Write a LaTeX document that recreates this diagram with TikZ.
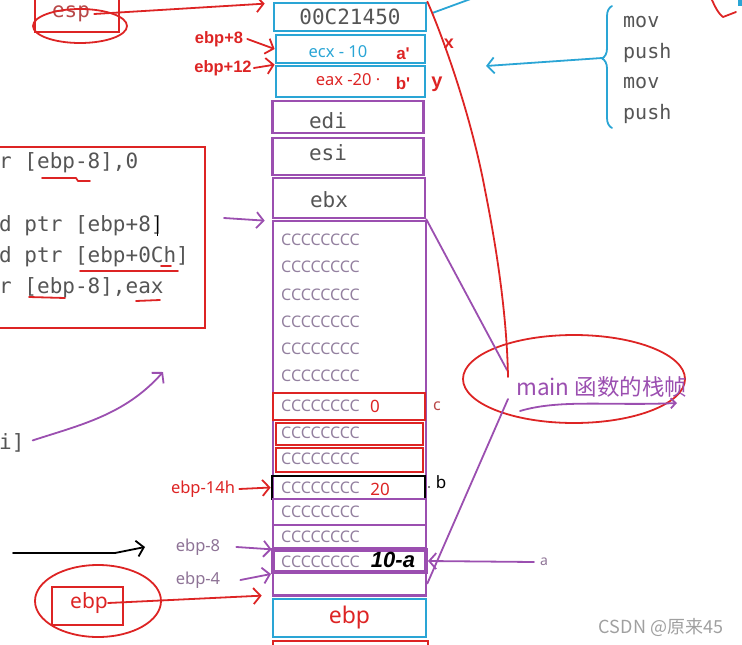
\documentclass[tikz,border=0pt]{standalone}
\usepackage{fontspec}
\setmainfont{Noto Sans}
\newfontfamily\monofont{DejaVu Sans Mono}
\newfontfamily\cjkfont{Noto Sans CJK SC}
\newfontfamily\heavyfont{Liberation Sans}
\usetikzlibrary{arrows.meta,decorations.pathreplacing,shapes.geometric}
\definecolor{SKCyan}{HTML}{2AA5D5}
\definecolor{SKPurple}{HTML}{9B4FB0}
\definecolor{SKRed}{HTML}{DD2424}
\definecolor{SKBrick}{HTML}{B84848}
\definecolor{SKText}{HTML}{555555}
\definecolor{SKCell}{HTML}{93809F}
\definecolor{SKMauve}{HTML}{8E7396}
\definecolor{SKMark}{HTML}{A0A0A0}
\newcommand{\pxsize}[1]{\fontsize{#1}{#1}\selectfont}

\begin{document}
\begin{tikzpicture}[x=1pt,y=-1pt,
  cellbox/.style={draw,line width=2.7pt,inner sep=0pt,minimum width=152pt},
  mono/.style={inner sep=0pt,text=SKText,font=\monofont\pxsize{21}},
  codeln/.style={anchor=base west,inner sep=0pt,text=SKText,font=\monofont\pxsize{21}},
  ctext/.style={anchor=west,inner sep=0pt,text=SKCell,font=\pxsize{16}},
  tag/.style={inner sep=0pt,font=\pxsize{16.5}},
  pen/.style={line width=1.8pt,line cap=round,line join=round},
  barb/.style={-{Straight Barb[length=7pt,width=16pt]}}]
\path[use as bounding box] (0,0) rectangle (742,645);
\clip (0,0) rectangle (742,645);

% stack, top part
\node[cellbox,draw=SKCyan,minimum height=28pt,mono] (tret) at (350,17) {00C21450};
\node[cellbox,draw=SKCyan,minimum width=149pt,minimum height=28pt] (carg1) at (350.5,49) {};
\node[cellbox,draw=SKCyan,minimum width=149pt,minimum height=31pt] (carg2) at (350.5,81.5) {};
\node[tag,text=SKCyan] (ecxv) at (338,52) {ecx - 10};
\node[tag,text=SKRed] (eaxv) at (348,80) {eax -20 ·};
\node[tag,text=SKRed,font=\heavyfont\bfseries\pxsize{17}] (ap) at (403,54) {a'};
\node[tag,text=SKRed,font=\heavyfont\bfseries\pxsize{17}] (bp) at (403,83) {b'};
\node[cellbox,draw=SKPurple,minimum width=151pt,minimum height=32pt] (edi) at (348,117) {};
\node[cellbox,draw=SKPurple,minimum width=151pt,minimum height=37pt] (esi) at (348,156.5) {};
\node[cellbox,draw=SKPurple,minimum height=40pt] (ebx) at (349,198) {};
\node[mono] (ediv) at (328,121) {edi};
\node[mono] (esiv) at (328,153) {esi};
\node[mono] (ebxv) at (329,200) {ebx};

% stack, locals of the frame
\node[cellbox,draw=SKPurple,minimum width=153pt,minimum height=375pt] (cframe) at (349.5,408.5) {};
\node[cellbox,draw=SKRed,minimum height=27pt] (cvar) at (349,406.5) {};
\node[cellbox,draw=SKRed,minimum width=147pt,minimum height=22pt] (cfill1) at (349.5,434) {};
\node[cellbox,draw=SKRed,minimum width=147pt,minimum height=24pt] (cfill2) at (349.5,460) {};
\node[cellbox,draw=black,minimum width=153pt,minimum height=23pt] (bvar) at (348.5,487.5) {};
\node[cellbox,draw=SKPurple,minimum width=153pt,minimum height=26pt] (row1) at (349.5,512) {};
\node[cellbox,draw=SKPurple,minimum width=153pt,minimum height=23pt] (row2) at (349.5,536.5) {};
\node[cellbox,draw=SKPurple,line width=4pt,minimum width=153pt,minimum height=22pt] (avar) at (349.5,561) {};
\node[cellbox,draw=SKPurple,minimum width=153pt,minimum height=23pt] (row4) at (349.5,583.5) {};
\foreach \y in {240,267,295,322,349,376,406,433,459,488,512,537,562}
  \node[ctext] (cc\y) at (281,\y) {CCCCCCCC};
\node[tag,text=SKRed,font=\pxsize{17}] (cval) at (375,406) {0};
\node[tag,text=SKRed,font=\pxsize{17}] (bval) at (380,489) {20};
\node[inner sep=0pt,font=\heavyfont\bfseries\itshape\pxsize{22}] (aval) at (393,560) {10-a};
\node[cellbox,draw=SKCyan,minimum width=153pt,minimum height=38pt,text=SKRed,font=\pxsize{23}] (oldebp) at (349.5,618) {ebp};
\node[cellbox,draw=SKRed,minimum width=155pt,minimum height=20pt] (below) at (350.5,651) {};

% right side labels
\node[tag,text=SKBrick,font=\pxsize{16}] (clbl) at (437,406) {c};
\node[tag,font=\pxsize{17}] (blbl) at (441,482) {b};
\fill (429,487) circle (0.9);
\node[tag,text=SKMauve,font=\pxsize{14}] (albl) at (544,562) {a};
\draw[SKPurple,pen,barb] ([xshift=-6pt]albl.west) -- (avar.east);

% caller's prologue
\draw[SKCyan,pen,decorate,decoration={brace,amplitude=10pt,aspect=0.57}] (612,128) -- (612,6);
\coordinate (brtip) at (602,58);
\node[mono,anchor=west,font=\monofont\pxsize{20}] (ins1) at (623,22) {mov};
\node[mono,anchor=west,font=\monofont\pxsize{20}] (ins2) at (623,53) {push};
\node[mono,anchor=west,font=\monofont\pxsize{20}] (ins3) at (623,83) {mov};
\node[mono,anchor=west,font=\monofont\pxsize{20}] (ins4) at (623,114) {push};
\coordinate (cyhead) at (486,66);
\draw[SKCyan,pen,barb] (brtip) -- (cyhead);
\coordinate (cyexit) at (476,-3);
\draw[SKCyan,pen] (tret.east) ++(5,-4) -- (cyexit);
\draw[SKRed,pen] (712,0) .. controls (716,9) and (719,14) .. (723,17) -- (736,12);
\fill[SKCyan] (738,0) rectangle (742,6);

% frame of main
\node[draw=SKRed,line width=1.8pt,ellipse,minimum width=222pt,minimum height=88pt] (mainring) at (574,379) {};
\node[inner sep=0pt,text=SKPurple,font=\cjkfont\pxsize{22.5},anchor=west] (mainlbl) at (516,387) {main 函数的栈帧};
\coordinate (vtop) at (507,370);
\coordinate (vbot) at (508,399);
\coordinate (redend) at (508,377);
\draw[SKPurple,pen] (ebx.south east) -- (vtop);
\draw[SKPurple,pen] (vbot) -- (row4.east);
\draw[SKRed,pen] (tret.north east) .. controls (440,30) and (470,110) .. (485,190)
  .. controls (498,255) and (507,320) .. (redend);
\node[tag,text=SKRed,font=\heavyfont\bfseries\pxsize{18}] (xlbl) at (449,44) {x};
\node[tag,text=SKRed,font=\heavyfont\bfseries\pxsize{20}] (ylbl) at (437,84) {y};
\coordinate (ulstart) at (520,411);
\coordinate (ulend) at (677,403);
\draw[SKPurple,pen,-{Straight Barb[length=5pt,width=10pt]}] (ulstart) .. controls (560,399) and (610,406) .. (ulend);

% esp and ebp pointers
\node[draw=SKRed,line width=1.8pt,minimum width=84pt,minimum height=40pt,inner sep=0pt] (espbox) at (77,12) {};
\node[mono,text=SKBrick,font=\monofont\pxsize{21}] (esp) at (71,14) {esp};
\node[draw=SKRed,line width=1.8pt,ellipse,minimum width=94pt,minimum height=34pt] (espring) at (80,26) {};
\draw[SKRed,pen,barb] ([xshift=4pt]esp.east) -- ([xshift=-8pt,yshift=-2pt]tret.north west);
\node[tag,text=SKRed,font=\heavyfont\bfseries\pxsize{16.5}] (p8) at (219,39) {ebp+8};
\node[tag,text=SKRed,font=\heavyfont\bfseries\pxsize{16.5}] (p12) at (223,68) {ebp+12};
\draw[SKRed,pen,barb] ([xshift=4pt]p8.east) -- (carg1.west);
\draw[SKRed,pen,barb] ([xshift=2pt]p12.east) -- (carg2.north west);
\node[tag,text=SKRed] (m14) at (203,489) {ebp-14h};
\draw[SKRed,pen,barb] ([xshift=4pt]m14.east) -- (bvar.west);
\node[tag,text=SKMauve] (m8) at (198,547) {ebp-8};
\node[tag,text=SKMauve] (m4) at (198,580) {ebp-4};
\draw[SKPurple,pen,barb] ([xshift=16pt]m8.east) -- (row2.south west);
\draw[SKPurple,pen,barb] ([xshift=20pt]m4.east) -- (avar.south west);
\node[draw=SKRed,line width=1.8pt,minimum width=71pt,minimum height=38pt,inner sep=0pt] (ebpbox) at (87.5,606) {};
\node[inner sep=0pt,text=SKRed,font=\pxsize{21}] (ebpv) at (89,603) {ebp};
\node[draw=SKRed,line width=1.8pt,ellipse,minimum width=126pt,minimum height=72pt] (ebpring) at (98,601) {};
\draw[SKRed,pen,barb] (ebpv.east) -- ([xshift=-10pt,yshift=2pt]oldebp.north west);

% code of main
\node[draw=SKRed,line width=2.7pt,minimum width=210pt,minimum height=181pt,inner sep=0pt] (codebox) at (100,237.5) {};
\node[codeln] (ln1) at (-1,168) {r [ebp-8],0};
\node[codeln] (ln3) at (-1,231) {d ptr [ebp+8]};
\node[codeln] (ln4) at (-1,262) {d ptr [ebp+0Ch]};
\node[codeln] (ln5) at (-1,293) {r [ebp-8],eax};
\draw[black,line width=1pt] (157,216) -- (157,236);
\draw[SKRed,pen] (42,178) -- (76,178) -- (78,181) -- (90,181);
\draw[SKRed,pen] (80,271) -- (178,271);
\draw[SKRed,pen] (161,266) -- (171,266);
\draw[SKRed,pen] (29,297) -- (65,298);
\draw[SKRed,pen] (136,301) -- (160,300);
\coordinate (ebxin) at (224,218);
\draw[SKPurple,pen,barb] (ebxin) -- ([xshift=-7pt,yshift=-1pt]cframe.north west);
\node[codeln] (lni) at (-1,449) {i]};
\draw[SKPurple,pen,barb] ([xshift=8pt,yshift=2pt]lni.east) .. controls (80,425) and (125,415) .. (163,372);
\coordinate (blkA) at (13,553);
\coordinate (blkB) at (145,547);
\draw[black,pen,barb] (blkA) -- (115,553) -- (blkB);

\node[inner sep=0pt,text=SKMark,font=\cjkfont\pxsize{18}] (csdn) at (661,627) {CSDN @原来45};
\end{tikzpicture}
\end{document}
